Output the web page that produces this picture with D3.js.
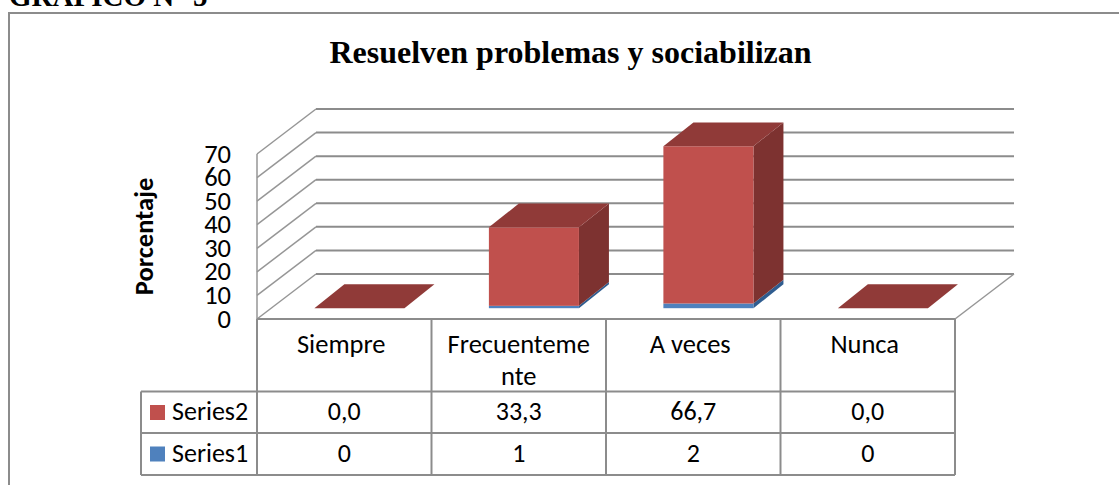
<!DOCTYPE html>
<html><head><meta charset="utf-8">
<script src="https://cdn.jsdelivr.net/npm/d3@7/dist/d3.min.js"></script>
<style>html,body{margin:0;padding:0;background:#fff;overflow:hidden}svg{display:block}</style></head>
<body><svg id="c" width="1119" height="485"></svg>
<script>
const categories = ["Siempre","Frecuentemente","A veces","Nunca"];
const categoryLines = [["Siempre"],["Frecuenteme","nte"],["A veces"],["Nunca"]];
const series1 = [0,1,2,0];
const series2 = [0,33.3,66.7,0];
const series1Labels = ["0","1","2","0"];
const series2Labels = ["0,0","33,3","66,7","0,0"];
const yTicks = [0,10,20,30,40,50,60,70];
const title = "Resuelven problemas y sociabilizan";
const yTitle = "Porcentaje";
const heading = "GRÁFICO N° 5";

const svg = d3.select("#c");
const sans = "Carlito, Calibri, 'Open Sans', 'Noto Sans', sans-serif";
const serif = "'Liberation Serif', serif";
const gridCol = "#8c8c8c";
const W = {l:257, r:955, y0:319, yT:154};
const depth = {dx:59, dy:-45};
const x = d3.scaleBand().domain(categories).range([W.l,W.r]);
const y = d3.scaleLinear().domain([0,70]).range([W.y0,W.yT]);
const line = (x1,y1,x2,y2,w=2,c=gridCol)=>svg.append("line").attr("x1",x1).attr("y1",y1).attr("x2",x2).attr("y2",y2).attr("stroke",c).attr("stroke-width",w);
const text = (s,xx,yy,size,anchor="middle",font=sans,weight="normal")=>svg.append("text").text(s).attr("x",xx).attr("y",yy).attr("font-size",size).attr("text-anchor",anchor).attr("font-family",font).attr("font-weight",weight).attr("fill","#000");

// page heading + frame (the frame runs past the right and bottom of the picture)
text(heading,9,6,29,"start",serif,"bold");
svg.append("rect").attr("x",9).attr("y",13).attr("width",1130).attr("height",500).attr("fill","#fff").attr("stroke",gridCol).attr("stroke-width",2);
text(title,570.5,63,32,"middle",serif,"bold");

// walls
yTicks.forEach(t=>{
  line(W.l,y(t),W.l+depth.dx,y(t)+depth.dy,1.5,"#969696");
  line(W.l+depth.dx,y(t)+depth.dy,W.r+depth.dx,y(t)+depth.dy,2);
  text(t,231,y(t)+8.5,26.5,"end");
});
line(W.l,W.yT,W.l,W.y0,1.5,"#969696");
line(W.r,W.y0,W.r+depth.dx,W.y0+depth.dy,1.5,"#969696");
text(yTitle,0,0,26.5,"middle",sans,"bold").attr("transform","translate(153,236.5) rotate(-90)");

// bars
const barW = x.bandwidth()*0.516, floorT = 0.24, barDepth = 0.5;
const fx = c=>x(c)+(x.bandwidth()-barW)/2 + depth.dx*floorT + 1;
const base = W.y0 + depth.dy*floorT;
const dep = {x:depth.dx*barDepth+0.5, y:depth.dy*barDepth*1.06};
const h = v=>W.y0-y(v);
function box(c,v0,v1,front,side,top){
  const X=fx(c), Y0=base-h(v0), Y1=base-h(v1);
  const pts=a=>a.map(p=>p.join(",")).join(" ");
  if(v1>v0){
    svg.append("polygon").attr("points",pts([[X+barW,Y0],[X+barW+dep.x,Y0+dep.y],[X+barW+dep.x,Y1+dep.y],[X+barW,Y1]])).attr("fill",side);
    svg.append("rect").attr("x",X).attr("y",Y1).attr("width",barW).attr("height",Y0-Y1).attr("fill",front);
  }
  if(top) svg.append("polygon").attr("points",pts([[X,Y1],[X+dep.x,Y1+dep.y],[X+barW+dep.x,Y1+dep.y],[X+barW,Y1]])).attr("fill",top);
}
categories.forEach((c,i)=>{
  box(c,0,series1[i],"#4f81bd","#2f5c8f",null);
  box(c,series1[i],series1[i]+series2[i],"#c0504d","#7d3230","#903a38");
});

// data table
const rows = {top:W.y0, a:391.5, b:433, c:475, left:141};
line(W.l,rows.top,W.r,rows.top);
[rows.a,rows.b,rows.c].forEach(r=>line(rows.left,r,W.r,r));
line(W.l,rows.top,W.l,rows.c);
categories.forEach(c=>line(x(c)+x.bandwidth(),rows.top,x(c)+x.bandwidth(),rows.c));
line(rows.left,rows.a,rows.left,rows.c);
categories.forEach((c,i)=>{
  const cx=x(c)+x.bandwidth()/2;
  const lines=categoryLines[i];
  lines.forEach((l,k)=>text(l,cx-(lines.length===1?3:0),353+k*32,26.5));
  text(series2Labels[i],cx,420,26);
  text(series1Labels[i],cx,461.5,26);
});
[["Series2","#c0504d",rows.a],["Series1","#4f81bd",rows.b]].forEach(([n,col,r])=>{
  svg.append("rect").attr("x",150).attr("y",r+13.5).attr("width",15).attr("height",15).attr("fill",col);
  text(n,172,r+28.5,26,"start");
});
</script></body></html>
